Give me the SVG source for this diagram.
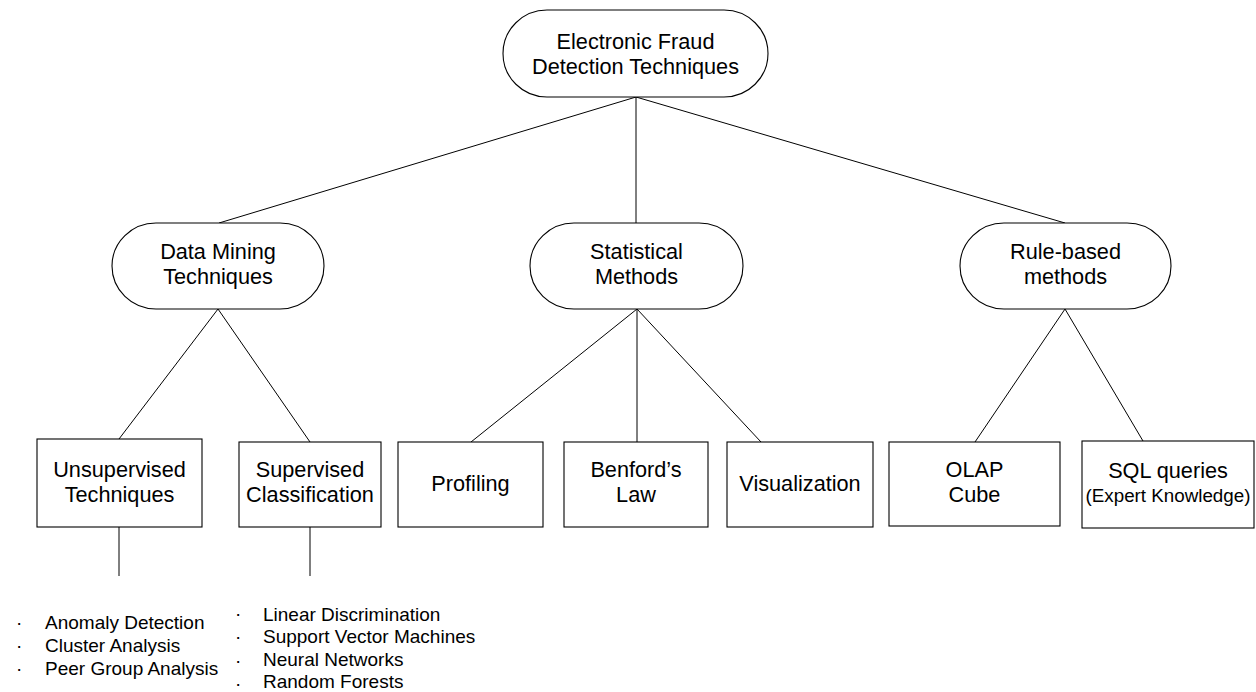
<svg xmlns="http://www.w3.org/2000/svg" width="1256" height="692" viewBox="0 0 1256 692">
  <style>
    .shape { fill: #ffffff; stroke: #000000; stroke-width: 1.1; }
    .edge { stroke: #000000; stroke-width: 1; fill: none; }
    .lbl { font-family: "Liberation Sans", Arial, sans-serif; font-size: 21.7px; fill: #000000; text-anchor: middle; }
    .small { font-family: "Liberation Sans", Arial, sans-serif; font-size: 19px; fill: #000000; }
    .sub { font-size: 18.8px; }
  </style>
  <rect width="1256" height="692" fill="#ffffff"/>

  <!-- connectors -->
  <g id="connectors">
    <line class="edge" x1="636" y1="97" x2="219" y2="223"/>
    <line class="edge" x1="636" y1="97" x2="636" y2="223"/>
    <line class="edge" x1="636" y1="97" x2="1065" y2="223"/>
    <line class="edge" x1="218" y1="309" x2="119" y2="439"/>
    <line class="edge" x1="218" y1="309" x2="310" y2="442"/>
    <line class="edge" x1="637" y1="309" x2="471" y2="442"/>
    <line class="edge" x1="637" y1="309" x2="637" y2="442"/>
    <line class="edge" x1="637" y1="309" x2="761" y2="442"/>
    <line class="edge" x1="1065" y1="309" x2="975" y2="442"/>
    <line class="edge" x1="1065" y1="309" x2="1143" y2="441"/>
    <line class="edge" x1="119" y1="527" x2="119" y2="576"/>
    <line class="edge" x1="310" y1="527" x2="310" y2="576"/>
  </g>

  <!-- root -->
  <g id="root">
    <rect class="shape" x="503" y="10" width="265" height="87" rx="44" ry="43.5"/>
    <text class="lbl" x="635.5" y="48.5">Electronic Fraud</text>
    <text class="lbl" x="635.5" y="73.5">Detection Techniques</text>
  </g>

  <!-- second level -->
  <g id="data-mining">
    <rect class="shape" x="112" y="223" width="212" height="86" rx="44" ry="43"/>
    <text class="lbl" x="218" y="259">Data Mining</text>
    <text class="lbl" x="218" y="284">Techniques</text>
  </g>
  <g id="statistical">
    <rect class="shape" x="530" y="223" width="213" height="86" rx="44" ry="43"/>
    <text class="lbl" x="636.5" y="259">Statistical</text>
    <text class="lbl" x="636.5" y="284">Methods</text>
  </g>
  <g id="rule-based">
    <rect class="shape" x="960" y="223" width="211" height="86" rx="44" ry="43"/>
    <text class="lbl" x="1065.5" y="259">Rule-based</text>
    <text class="lbl" x="1065.5" y="284">methods</text>
  </g>

  <!-- third level -->
  <g id="unsupervised">
    <rect class="shape" x="37" y="439" width="165" height="88"/>
    <text class="lbl" x="119.5" y="477">Unsupervised</text>
    <text class="lbl" x="119.5" y="502">Techniques</text>
  </g>
  <g id="supervised">
    <rect class="shape" x="239" y="442" width="142" height="85"/>
    <text class="lbl" x="310" y="477">Supervised</text>
    <text class="lbl" x="310" y="502">Classification</text>
  </g>
  <g id="profiling">
    <rect class="shape" x="398" y="442" width="145" height="85"/>
    <text class="lbl" x="470.5" y="491">Profiling</text>
  </g>
  <g id="benford">
    <rect class="shape" x="564" y="442" width="144" height="85"/>
    <text class="lbl" x="636" y="477">Benford’s</text>
    <text class="lbl" x="636" y="502">Law</text>
  </g>
  <g id="visualization">
    <rect class="shape" x="727" y="442" width="146" height="85"/>
    <text class="lbl" x="800" y="491">Visualization</text>
  </g>
  <g id="olap">
    <rect class="shape" x="889" y="442" width="171" height="84"/>
    <text class="lbl" x="974.5" y="477">OLAP</text>
    <text class="lbl" x="974.5" y="502">Cube</text>
  </g>
  <g id="sql">
    <rect class="shape" x="1082" y="441" width="172" height="87"/>
    <text class="lbl" x="1168" y="478">SQL queries</text>
    <text class="lbl sub" x="1168" y="502">(Expert Knowledge)</text>
  </g>

  <!-- bullet lists -->
  <g id="unsupervised-list" class="small">
    <text x="16" y="629">·</text><text x="45" y="629">Anomaly Detection</text>
    <text x="16" y="652">·</text><text x="45" y="652">Cluster Analysis</text>
    <text x="16" y="675">·</text><text x="45" y="675">Peer Group Analysis</text>
  </g>
  <g id="supervised-list" class="small">
    <text x="235" y="620">·</text><text x="263" y="621">Linear Discrimination</text>
    <text x="235" y="643">·</text><text x="263" y="643">Support Vector Machines</text>
    <text x="235" y="667">·</text><text x="263" y="666">Neural Networks</text>
    <text x="235" y="690">·</text><text x="263" y="688">Random Forests</text>
  </g>
</svg>
